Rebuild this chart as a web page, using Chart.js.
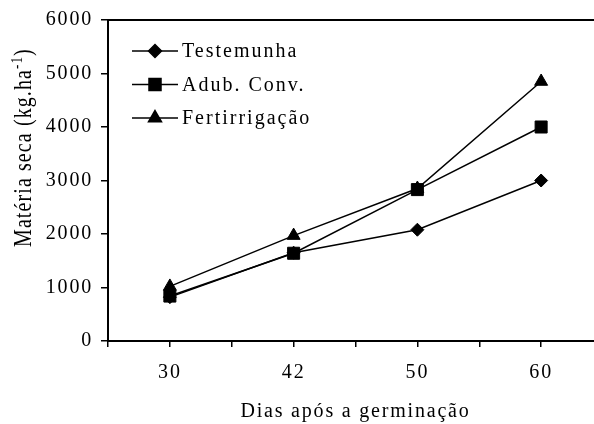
<!DOCTYPE html>
<html>
<head>
<meta charset="utf-8">
<script src="https://cdn.jsdelivr.net/npm/chart.js@4/dist/chart.umd.min.js"></script>
<style>
  body { margin: 0; overflow: hidden; background: #fff; }
  canvas { display: block; }
</style>
</head>
<body>
<canvas id="grafico" width="617" height="424"></canvas>
<script>
// dados
var dias = ['30', '42', '50', '60']
var testemunha = [820, 1650, 2080, 3000]
var adubConv = [840, 1640, 2830, 4000]
var fertirrigacao = [1020, 1970, 2850, 4850]
var yTicks = [0, 1000, 2000, 3000, 4000, 5000, 6000]

var fonte = '"Liberation Serif", serif'

function pontos(valores){
  return valores.map(function(v, i){ return {x: i, y: v} })
}

// legenda dentro da area do grafico (linha + marcador)
const legendaInterna = {
  id: 'legendaInterna',
  beforeDraw(chart){
    chart.ctx.letterSpacing = '1.8px'
  },
  afterDatasetsDraw(chart){
    var ctx = chart.ctx
    var area = chart.chartArea
    ctx.save()
    ctx.letterSpacing = '2px'
    chart.data.datasets.forEach(function(ds, k){
      var y = area.top + 31 + k * 33.5
      var x0 = area.left + 24
      ctx.strokeStyle = '#000'
      ctx.lineWidth = 1.5
      ctx.beginPath()
      ctx.moveTo(x0, y)
      ctx.lineTo(x0 + 46, y)
      ctx.stroke()
      ctx.fillStyle = '#000'
      Chart.helpers.drawPoint(ctx, {
        pointStyle: ds.pointStyle, radius: ds.pointRadius, rotation: 0, borderWidth: 1
      }, x0 + 23, y)
      ctx.fillStyle = '#000'
      ctx.font = '20px ' + fonte
      ctx.textAlign = 'left'
      ctx.textBaseline = 'middle'
      ctx.fillText(ds.label, x0 + 50, y + 1)
    })
    ctx.restore()
  }
}

// titulo do eixo y com expoente
const tituloY = {
  id: 'tituloY',
  afterDraw(chart){
    var ctx = chart.ctx
    ctx.save()
    ctx.letterSpacing = '1.1px'
    ctx.translate(25, 247)
    ctx.scale(1.22, 1)
    ctx.rotate(-Math.PI / 2)
    ctx.fillStyle = '#000'
    ctx.textAlign = 'left'
    ctx.textBaseline = 'middle'
    ctx.font = '20px ' + fonte
    var parte1 = 'Matéria seca (kg.ha'
    ctx.fillText(parte1, 0, 0)
    var x = ctx.measureText(parte1).width
    ctx.font = '13px ' + fonte
    ctx.fillText('-1', x, -6)
    x += ctx.measureText('-1').width
    ctx.font = '20px ' + fonte
    ctx.fillText(')', x, 0)
    ctx.restore()
  }
}

const ctx = document.getElementById('grafico').getContext('2d');
const grafico = new Chart(ctx, {
  type: 'line',
  data: {
    datasets: [
      { label: 'Testemunha', data: pontos(testemunha), pointStyle: 'rectRot', pointRadius: 6.5 },
      { label: 'Adub. Conv.', data: pontos(adubConv), pointStyle: 'rect', pointRadius: 8.5 },
      { label: 'Fertirrigação', data: pontos(fertirrigacao), pointStyle: 'triangle', pointRadius: 7.5 }
    ].map(function(ds){
      ds.borderColor = '#000'
      ds.backgroundColor = '#000'
      ds.borderWidth = 1.5
      ds.pointBorderWidth = 1
      ds.pointHoverRadius = ds.pointRadius
      ds.tension = 0
      return ds
    })
  },
  options: {
    responsive: false,
    animation: false,
    layout: { padding: { top: 20, right: 7, left: 0, bottom: 0 } },
    plugins: { legend: { display: false }, tooltip: { enabled: false } },
    scales: {
      x: {
        type: 'linear',
        min: -0.5,
        max: 3.5,
        afterFit(scale){ scale.height = 83 },
        afterBuildTicks(scale){
          scale.ticks = [-0.5, 0, 0.5, 1, 1.5, 2, 2.5, 3, 3.5].map(function(v){ return {value: v} })
        },
        ticks: {
          autoSkip: false,
          maxRotation: 0,
          padding: 14,
          color: '#000',
          font: { family: fonte, size: 20 },
          callback: function(v){ return Number.isInteger(v) ? dias[v] : '' }
        },
        grid: { drawOnChartArea: false, drawTicks: true, tickLength: 6, color: '#000', lineWidth: 1.5 },
        border: { color: '#000', width: 2 },
        title: {
          display: true,
          text: 'Dias após a germinação',
          color: '#000',
          font: { family: fonte, size: 20 },
          padding: { top: 0, bottom: 0 }
        }
      },
      y: {
        min: 0,
        max: 6000,
        afterFit(scale){ scale.width = 108 },
        afterBuildTicks(scale){
          scale.ticks = yTicks.map(function(v){ return {value: v} })
        },
        ticks: {
          padding: 8,
          color: '#000',
          font: { family: fonte, size: 20 },
          callback: function(v){ return String(v) }
        },
        grid: { drawOnChartArea: false, drawTicks: true, tickLength: 7, color: '#000', lineWidth: 1.5 },
        border: { color: '#000', width: 2 }
      }
    }
  },
  plugins: [legendaInterna, tituloY, {
    id: 'moldura',
    afterDraw(chart){
      var c = chart.ctx, a = chart.chartArea
      c.save()
      c.strokeStyle = '#000'
      c.lineWidth = 2
      c.beginPath()
      c.moveTo(a.left, a.top)
      c.lineTo(a.right, a.top)
      c.lineTo(a.right, a.bottom)
      c.stroke()
      c.restore()
    }
  }]
});
</script>
</body>
</html>
